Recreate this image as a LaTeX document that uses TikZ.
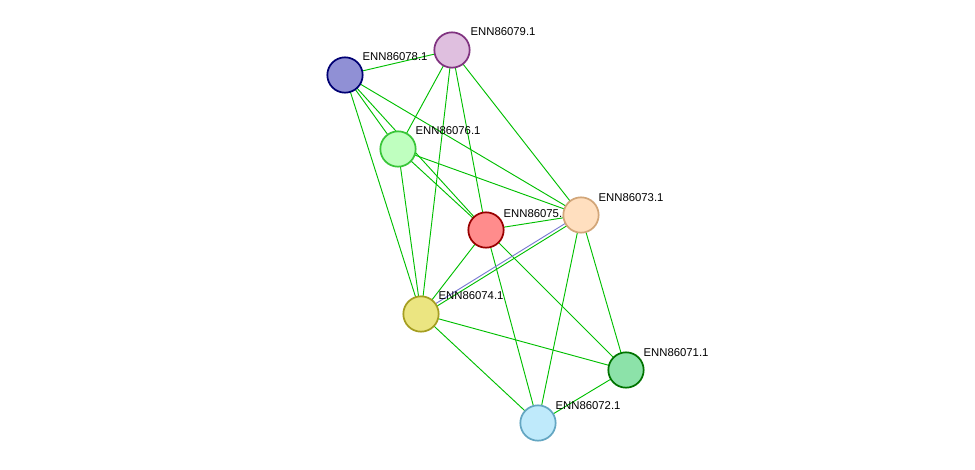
\documentclass[tikz,border=0pt]{standalone}
\usepackage{fontspec}
\setmainfont{Liberation Sans}
\tikzset{
  prot/.style={draw, circle, line width=1.3pt, minimum size=26.5pt, inner sep=0pt},
  lbl/.style={anchor=south west, font=\fontsize{8.5}{10}\selectfont, inner sep=1pt},
  ev/.style={draw=green!70!black!80, line width=0.7pt},
}
\begin{document}
\begin{tikzpicture}[x=0.75pt, y=-0.75pt]
  \useasboundingbox (0,0) rectangle (975,469);
  \coordinate (p79) at (452,50);
  \coordinate (p78) at (345,75);
  \coordinate (p76) at (398,149);
  \coordinate (p75) at (486,230);
  \coordinate (p73) at (581,215);
  \coordinate (p74) at (421,314);
  \coordinate (p71) at (626,370);
  \coordinate (p72) at (538,423);

  \foreach \a/\b in {78/79,78/76,78/75,78/73,78/74,79/76,79/75,79/74,79/73,
                     76/75,76/73,76/74,75/73,75/74,75/71,75/72,73/71,73/72,
                     74/71,74/72,71/72}
    \draw[ev, green!75!black] (p\a) -- (p\b);
  \draw[ev, green!75!black] ([yshift=-1.5pt]p73) -- ([yshift=-1.5pt]p74);
  \draw[line width=0.7pt, blue!50!gray!70] ([yshift=1pt]p73) -- ([yshift=1pt]p74);

  \node[prot, draw=red!60!black, fill=red!45] (n75) at (p75) {};
  \node[lbl] at (502,219) {ENN86075.1};
  \node[prot, draw=blue!45!black, fill=blue!45!gray!60] (n78) at (p78) {};
  \node[prot, draw=violet!60!gray, fill=violet!25] (n79) at (p79) {};
  \node[prot, draw=green!55!gray, fill=green!25] (n76) at (p76) {};
  \node[prot, draw=brown!70, fill=orange!25] (n73) at (p73) {};
  \node[prot, draw=olive!80, fill=olive!40!yellow!45] (n74) at (p74) {};
  \node[prot, draw=green!45!black, fill=green!50!teal!45] (n71) at (p71) {};
  \node[prot, draw=cyan!50!gray, fill=cyan!25] (n72) at (p72) {};

  \node[lbl] at (361,62) {ENN86078.1};
  \node[lbl] at (469,37) {ENN86079.1};
  \node[lbl] at (414,136) {ENN86076.1};
  \node[lbl] at (597,203) {ENN86073.1};
  \node[lbl] at (437,301) {ENN86074.1};
  \node[lbl] at (642,358) {ENN86071.1};
  \node[lbl] at (554,411) {ENN86072.1};
\end{tikzpicture}
\end{document}
